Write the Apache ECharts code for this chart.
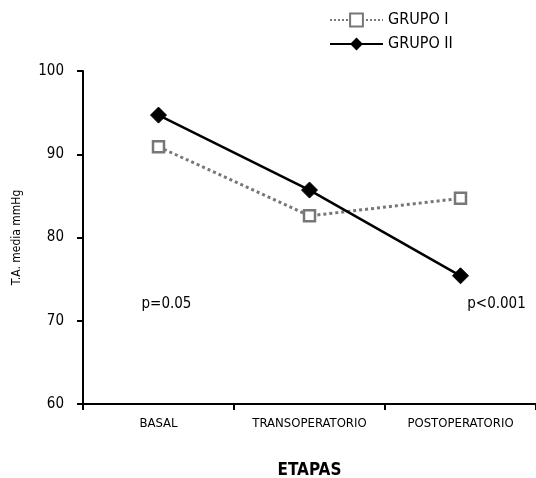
<!DOCTYPE html>
<html><head><meta charset="utf-8">
<script src="https://cdn.jsdelivr.net/npm/echarts@6/dist/echarts.min.js"></script>
<style>html,body{margin:0;padding:0;background:#fff}#c{width:536px;height:478px}</style>
</head><body><div id="c"></div>
<script>
const categories = ['BASAL', 'TRANSOPERATORIO', 'POSTOPERATORIO'];
const grupo1 = [90.9, 82.6, 84.7];
const grupo2 = [94.7, 85.7, 75.4];
const yTicks = [60, 70, 80, 90, 100];
const pLabels = [['BASAL', 'p=0.05'], ['POSTOPERATORIO', 'p<0.001']];
const pLabelValue = 72;

const FF = "'DejaVu Sans Condensed','Liberation Sans Narrow',sans-serif";
const chart = echarts.init(document.getElementById('c'), null, {renderer: 'canvas'});
chart.setOption({
  animation: false,
  backgroundColor: '#fff',
  textStyle: {fontFamily: FF},
  grid: {left: 83, right: 0, top: 71, bottom: 74, containLabel: false, outerBoundsMode: 'none'},
  legend: {
    orient: 'vertical', left: 324, top: 7, itemGap: 8,
    itemWidth: 53, itemHeight: 16,
    textStyle: {fontFamily: FF, fontSize: 16, color: '#000'},
    data: ['GRUPO I', 'GRUPO II']
  },
  xAxis: {
    type: 'category', data: categories, boundaryGap: true,
    name: 'ETAPAS', nameLocation: 'middle', nameGap: 58,
    nameTextStyle: {fontFamily: FF, fontSize: 17, fontWeight: 'bold', color: '#000'},
    axisLine: {lineStyle: {color: '#000', width: 2}},
    axisTick: {show: true, interval: 0, length: 6, lineStyle: {color: '#000', width: 2}},
    axisLabel: {interval: 0, fontFamily: FF, fontSize: 13, color: '#000', margin: 13}
  },
  yAxis: {
    type: 'value', min: 60, max: 100, interval: 10,
    name: 'T.A. media mmHg', nameLocation: 'middle', nameGap: 60,
    nameTextStyle: {fontFamily: FF, fontSize: 12, color: '#000'},
    axisLine: {show: true, lineStyle: {color: '#000', width: 2}},
    axisTick: {show: true, length: 6, lineStyle: {color: '#000', width: 2}},
    axisLabel: {fontFamily: FF, fontSize: 15, color: '#000', margin: 19,
      formatter: v => yTicks.includes(v) ? String(v) : ''},
    splitLine: {show: false}
  },
  series: [
    {
      name: 'GRUPO I', type: 'line', data: grupo1,
      symbol: 'rect', symbolSize: 11,
      itemStyle: {color: '#fff', borderColor: '#777', borderWidth: 2.5},
      lineStyle: {color: '#777', width: 3, type: 'dotted'},
      z: 2
    },
    {
      name: 'GRUPO II', type: 'line', data: grupo2,
      symbol: 'diamond', symbolSize: 16,
      itemStyle: {color: '#000', borderColor: '#000'},
      lineStyle: {color: '#000', width: 2.5},
      z: 3,
      markPoint: {
        symbol: 'circle', symbolSize: 0,
        label: {show: true, position: 'inside', fontFamily: FF, fontSize: 15, color: '#000',
          formatter: p => p.name},
        data: [
          {name: pLabels[0][1], coord: [pLabels[0][0], pLabelValue], label: {offset: [8, 0]}},
          {name: pLabels[1][1], coord: [pLabels[1][0], pLabelValue], label: {offset: [36, 0]}}
        ]
      }
    }
  ]
});
</script></body></html>
